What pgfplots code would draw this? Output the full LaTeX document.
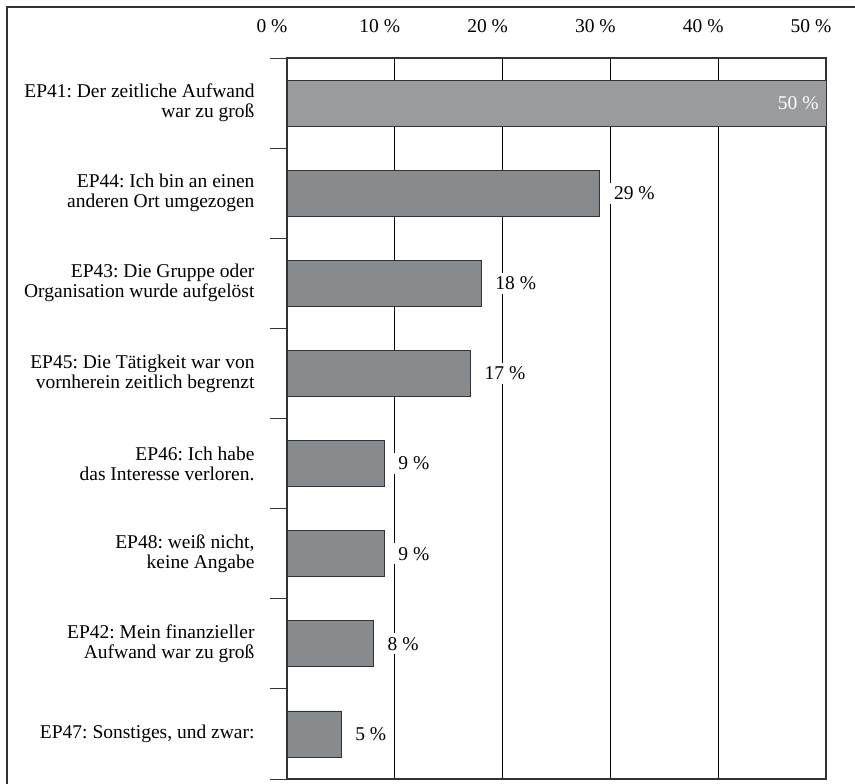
\documentclass[border=0pt]{standalone}
\usepackage{pgfplots}
\pgfplotsset{compat=1.18}
\usepackage{fontspec}
\setmainfont{Liberation Serif}
\definecolor{barlight}{HTML}{9A9B9E}
\definecolor{bardark}{HTML}{888B8D}
\definecolor{edge}{HTML}{333333}
\frenchspacing
\begin{document}
\begin{tikzpicture}
\path[use as bounding box] (0,0) rectangle (855bp,784bp);
\begin{axis}[
    at={(287bp,5bp)}, anchor=south west,
    scale only axis,
    width=539bp, height=721bp,
    xbar, bar width=46bp,
    xmin=0, xmax=50,
    ymin=-0.5, ymax=7.5,
    y dir=reverse,
    enlargelimits=false,
    xticklabel pos=upper,
    ytick pos=left,
    axis line style={edge, line width=1.2bp},
    font=\fontsize{19.5bp}{20bp}\selectfont,
    /pgf/number format/assume math mode=true,
    xtick={0,10,20,30,40,50},
    xticklabels={0~\%,10~\%,20~\%,30~\%,40~\%,50~\%},
    xticklabel style={xshift=-15bp, yshift=22bp},
    xmajorgrids,
    grid style={black, line width=0.8bp},
    major tick length=0pt,
    ytick={0,...,7},
    yticklabels={
        {EP41: Der zeitliche Aufwand\\war zu groß},
        {EP44: Ich bin an einen\\anderen Ort umgezogen},
        {EP43: Die Gruppe oder\\Organisation wurde aufgelöst},
        {EP45: Die Tätigkeit war von\\vornherein zeitlich begrenzt},
        {EP46: Ich habe\\das Interesse verloren.},
        {EP48: weiß nicht,\\keine Angabe},
        {EP42: Mein finanzieller\\Aufwand war zu groß},
        {EP47: Sonstiges, und zwar:}},
    yticklabel style={align=right, xshift=-29bp},
    minor ytick={-0.5,0.5,...,7.5},
    minor tick length=17bp,
    tick align=outside,
    minor tick style={edge, line width=1bp},
    clip=false,
]
\addplot[fill=barlight, draw=edge, line width=0.8bp, bar shift=0pt,
    nodes near coords={\pgfmathprintnumber{\pgfplotspointmeta}~\%},
    nodes near coords style={anchor=east, text=white, xshift=-4bp, inner sep=3bp}]
    coordinates {(50,0)};
\addplot[fill=bardark, draw=edge, line width=0.8bp, bar shift=0pt,
    nodes near coords={\pgfmathprintnumber{\pgfplotspointmeta}~\%},
    nodes near coords style={anchor=west, fill=white, xshift=10bp, inner sep=4bp}]
    coordinates {(29,1) (18,2) (17,3) (9,4) (9,5) (8,6) (5,7)};
\end{axis}
\draw[edge, line width=1.6bp] (7bp,-5bp) -- (7bp,777bp) -- (870bp,777bp);
\end{tikzpicture}
\end{document}
